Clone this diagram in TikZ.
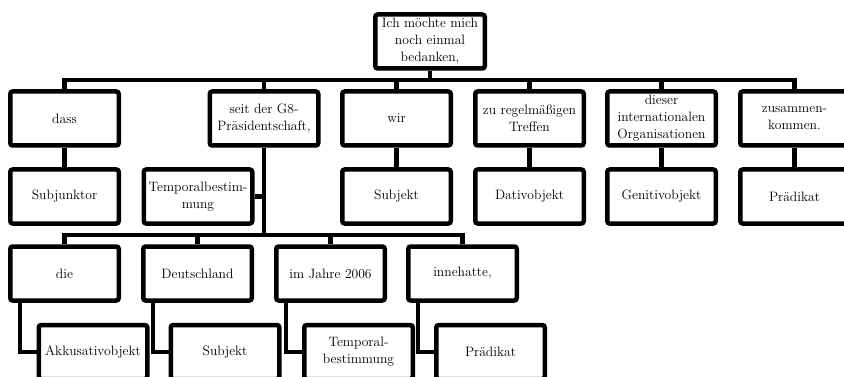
\documentclass[tikz,border=0pt]{standalone}
\begin{document}
\begin{tikzpicture}[x=1pt,y=-1pt,
  box/.style={draw, line width=4.5pt, rounded corners=2.5pt, minimum width=108.5pt,
    minimum height=54pt, inner sep=0pt, align=center, fill=white,
    font=\fontsize{13.6}{17}\selectfont},
  conn/.style={line width=4.5pt}]
\useasboundingbox (0,0) rectangle (844,377);
\clip (0,0) rectangle (844,377);

% root
\node[box, minimum width=109.5pt] (root) at (430,41.5) {Ich möchte mich\\noch einmal\\bedanken,};

% row 1
\node[box] (dass) at (64.5,118.5) {dass};
\node[box] (seit) at (264,118.5) {seit der G8-\\Präsidentschaft,};
\node[box] (wir) at (396.5,118.5) {wir};
\node[box] (zu) at (529.5,118.5) {zu regelmäßigen\\Treffen};
\node[box] (dieser) at (661.5,118.5) {dieser\\internationalen\\Organisationen};
\node[box] (zus) at (794.5,118.5) {zusammen-\\kommen.};

% row 2
\node[box] (subjunktor) at (64.5,196.5) {Subjunktor};
\node[box] (temp) at (198,196.5) {Temporalbestim-\\mung};
\node[box] (subjekt) at (396.5,196.5) {Subjekt};
\node[box] (dativ) at (529.5,196.5) {Dativobjekt};
\node[box] (genitiv) at (661.5,196.5) {Genitivobjekt};
\node[box] (praed) at (794.5,196.5) {Prädikat};

% row 3
\node[box] (die) at (64.5,273.5) {die};
\node[box] (deutsch) at (197.5,273.5) {Deutschland};
\node[box] (jahre) at (330.5,273.5) {im Jahre 2006};
\node[box] (inne) at (462.5,273.5) {innehatte,};

% row 4
\node[box] (akk) at (93,352) {Akkusativobjekt};
\node[box] (subjekt2) at (225,352) {Subjekt};
\node[box] (temp2) at (358.5,352) {Temporal-\\bestimmung};
\node[box] (praed2) at (490.5,352) {Prädikat};

% connectors
\coordinate (bar1) at (430,80);
\draw[conn] (root.south) -- (bar1);
\foreach \n in {dass,seit,wir,zu,dieser,zus}{
  \draw[conn] (bar1) -| (\n.north);
}
\draw[conn] (dass.south) -- (subjunktor.north);
\draw[conn] (wir.south) -- (subjekt.north);
\draw[conn] (zu.south) -- (dativ.north);
\draw[conn] (dieser.south) -- (genitiv.north);
\draw[conn] (zus.south) -- (praed.north);

\coordinate (bar2) at (264,235);
\draw[conn] (seit.south) -- (bar2);
\draw[conn] (seit.south) |- (temp.east);
\foreach \n in {die,deutsch,jahre,inne}{
  \draw[conn] (bar2) -| (\n.north);
}
\draw[conn] ([xshift=11.75pt]die.south west) |- (akk.west);
\draw[conn] ([xshift=11.75pt]deutsch.south west) |- (subjekt2.west);
\draw[conn] ([xshift=11.75pt]jahre.south west) |- (temp2.west);
\draw[conn] ([xshift=11.75pt]inne.south west) |- (praed2.west);
\end{tikzpicture}
\end{document}
